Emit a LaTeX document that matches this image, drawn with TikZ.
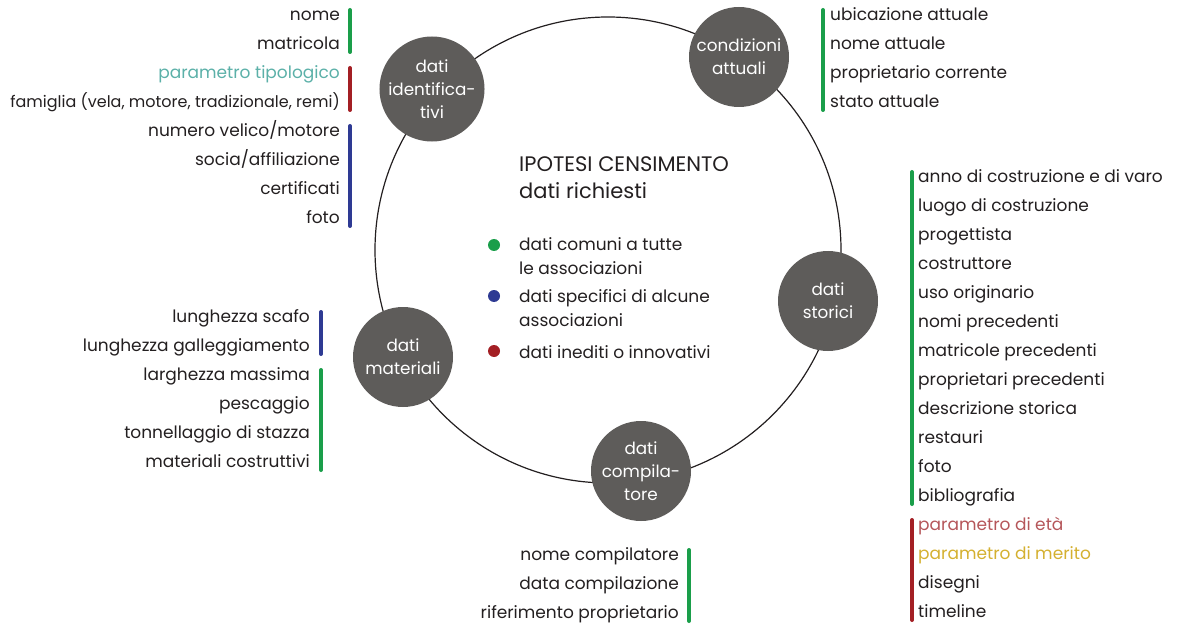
\documentclass[tikz,border=0pt]{standalone}
\usepackage{fontspec}
\setmainfont{Poppins}
\usetikzlibrary{positioning}

\definecolor{cgreen}{RGB}{26,158,74}
\definecolor{cblue}{RGB}{46,58,147}
\definecolor{cred}{RGB}{163,31,36}
\definecolor{cteal}{RGB}{91,176,168}
\definecolor{cage}{RGB}{181,86,90}
\definecolor{cmerit}{RGB}{212,176,48}
\definecolor{cgray}{RGB}{94,92,90}
\definecolor{ctext}{RGB}{35,31,32}

\begin{document}
\begin{tikzpicture}[x=1pt, y=1pt, node distance=29pt,
    main node/.style={circle,fill=cgray,minimum size=100pt,inner sep=0pt,text=white,align=center,font=\fontsize{16.8}{23}\selectfont},
    item/.style={inner sep=0pt,text height=12.5pt,text depth=3.5pt,text=ctext,font=\fontsize{17}{20}\selectfont},
    litem/.style={item,anchor=east},
    ritem/.style={item,anchor=west},
    lnext/.style={item,below=of #1.east,anchor=east},
    rnext/.style={item,below=of #1.west,anchor=west},
    legend/.style={anchor=west,align=left,inner sep=0pt,text=ctext,font=\fontsize{17}{24}\selectfont},
    bar/.style={line width=4pt,line cap=round},
    dot/.style={circle,inner sep=0pt,minimum size=12pt}]

  \useasboundingbox (0,0) rectangle (1180,-628);

  \node[circle,draw=ctext,line width=1.2pt,minimum size=466pt] (ring) at (608,-250) {};

  \node[main node] (ident) at (432,-89) {dati\\identifica-\\tivi};
  \node[main node] (cond) at (739,-57) {condizioni\\attuali};
  \node[main node] (stor) at (828,-301) {dati\\storici};
  \node[main node] (mat) at (403,-357) {dati\\materiali};
  \node[main node] (comp) at (641,-471) {dati\\compila-\\tore};

  % centre
  \node[anchor=west,align=left,inner sep=0pt,text=ctext,font=\fontsize{21}{27}\selectfont] (title) at (519,-178) {IPOTESI CENSIMENTO\\dati richiesti};
  \node[dot,fill=cgreen] (dgreen) at (494,-245) {};
  \node[dot,fill=cblue] (dblue) at (494,-296) {};
  \node[dot,fill=cred] (dred) at (494,-351) {};
  \node[legend] (lgreen) at (519,-256) {dati comuni a tutte\\le associazioni};
  \node[legend] (lblue) at (519,-308) {dati specifici di alcune\\associazioni};
  \node[legend] (lred) at (519,-352) {dati inediti o innovativi};

  % dati identificativi
  \node[litem] (nome) at (340,-16) {nome};
  \node[lnext=nome] (matricola) {matricola};
  \node[lnext=matricola,text=cteal] (tipo) {parametro tipologico};
  \node[lnext=tipo,font=\fontsize{16}{20}\selectfont] (famiglia) {famiglia (vela, motore, tradizionale, remi)};
  \node[lnext=famiglia] (velico) {numero velico/motore};
  \node[lnext=velico] (socia) {socia/affiliazione};
  \node[lnext=socia] (certificati) {certificati};
  \node[lnext=certificati] (foto) {foto};

  % condizioni attuali
  \node[ritem] (ubicazione) at (830,-16) {ubicazione attuale};
  \node[rnext=ubicazione] (nomeatt) {nome attuale};
  \node[rnext=nomeatt] (propcorr) {proprietario corrente};
  \node[rnext=propcorr] (stato) {stato attuale};

  % dati storici
  \node[ritem] (anno) at (918,-178) {anno di costruzione e di varo};
  \node[rnext=anno] (luogo) {luogo di costruzione};
  \node[rnext=luogo] (progettista) {progettista};
  \node[rnext=progettista] (costruttore) {costruttore};
  \node[rnext=costruttore] (uso) {uso originario};
  \node[rnext=uso] (nomiprec) {nomi precedenti};
  \node[rnext=nomiprec] (matrprec) {matricole precedenti};
  \node[rnext=matrprec] (propprec) {proprietari precedenti};
  \node[rnext=propprec] (descrizione) {descrizione storica};
  \node[rnext=descrizione] (restauri) {restauri};
  \node[rnext=restauri] (fotostor) {foto};
  \node[rnext=fotostor] (bibliografia) {bibliografia};
  \node[rnext=bibliografia,text=cage] (eta) {parametro di età};
  \node[rnext=eta,text=cmerit] (merito) {parametro di merito};
  \node[rnext=merito] (disegni) {disegni};
  \node[rnext=disegni] (timeline) {timeline};

  % dati materiali
  \node[litem] (scafo) at (310,-318) {lunghezza scafo};
  \node[lnext=scafo] (galleggiamento) {lunghezza galleggiamento};
  \node[lnext=galleggiamento] (larghezza) {larghezza massima};
  \node[lnext=larghezza] (pescaggio) {pescaggio};
  \node[lnext=pescaggio] (stazza) {tonnellaggio di stazza};
  \node[lnext=stazza] (materiali) {materiali costruttivi};

  % dati compilatore
  \node[litem] (nomecomp) at (679,-556) {nome compilatore};
  \node[lnext=nomecomp] (datacomp) {data compilazione};
  \node[lnext=datacomp] (riferimento) {riferimento proprietario};

  % bars
  \draw[bar,cgreen] ([shift={(10pt,6pt)}]nome.east) -- ([shift={(10pt,-7pt)}]matricola.east);
  \draw[bar,cred] ([shift={(10pt,6pt)}]tipo.east) -- ([shift={(10pt,-7pt)}]famiglia.east);
  \draw[bar,cblue] ([shift={(10pt,6pt)}]velico.east) -- ([shift={(10pt,-7pt)}]foto.east);
  \draw[bar,cgreen] ([shift={(-7pt,6pt)}]ubicazione.west) -- ([shift={(-7pt,-7pt)}]stato.west);
  \draw[bar,cgreen] ([shift={(-6pt,6pt)}]anno.west) -- ([shift={(-6pt,-7pt)}]bibliografia.west);
  \draw[bar,cred] ([shift={(-6pt,6pt)}]eta.west) -- ([shift={(-6pt,-7pt)}]timeline.west);
  \draw[bar,cblue] ([shift={(11pt,6pt)}]scafo.east) -- ([shift={(11pt,-7pt)}]galleggiamento.east);
  \draw[bar,cgreen] ([shift={(11pt,6pt)}]larghezza.east) -- ([shift={(11pt,-7pt)}]materiali.east);
  \draw[bar,cgreen] ([shift={(10pt,6pt)}]nomecomp.east) -- ([shift={(10pt,-7pt)}]riferimento.east);

\end{tikzpicture}
\end{document}
